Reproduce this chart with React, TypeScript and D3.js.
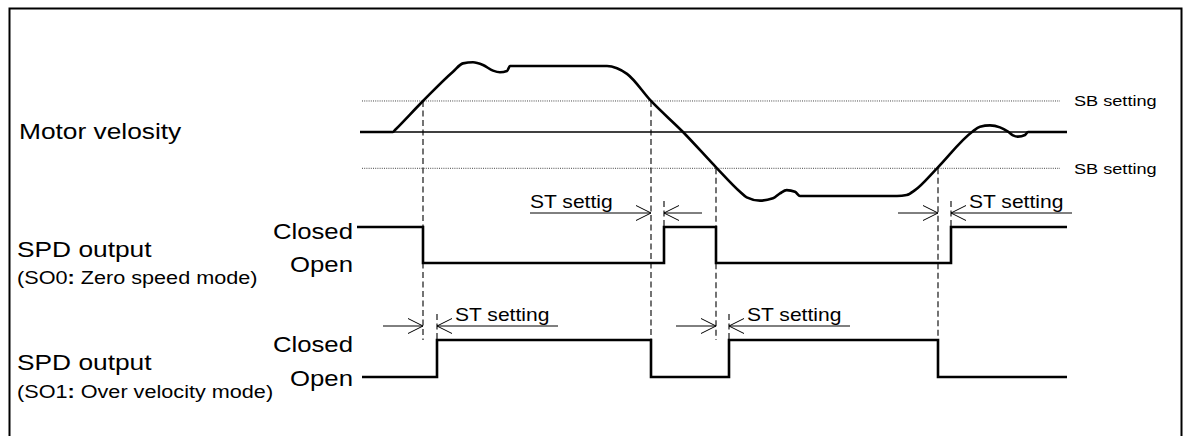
import React, { useEffect, useRef } from 'react';
import * as d3 from 'd3';

// time runs left to right over the traces (arbitrary units)
const timeDomain = [0, 707];

// motor velocity profile, [t, v] with v in % of the flat running speed
const velocity: [number, number][] = [
  [0, 0], [33, 0], [35, 3], [63, 47], [93, 91.4], [103, 104], [113, 105.6],
  [123, 101.5], [133, 93], [140, 90.5], [147, 92.4], [150, 100], [247, 100],
  [257, 96.5], [267, 88], [291, 47], [323, 0], [357, -55], [380, -90.5],
  [386.7, -99], [400, -104], [413, -100.5], [420, -93], [426.7, -88],
  [435, -90.5], [440, -97], [537, -97], [546.7, -95.5], [555, -88],
  [577, -55], [612, 0], [620, 8], [630, 10], [640, 7], [648, 0.5],
  [653, -5], [658, -7], [665, -4.5], [668, 0], [707, 0]
];

const sbLevels = [47, -55];
const sbLabels = ['SB setting', 'SB setting'];

// instants where the velocity crosses an SB setting, and at which level
const sbCross = [63, 291, 356, 578];
const sbCrossLevel = [47, 47, -55, -55];

// SPD output states, [t, 1 = Closed / 0 = Open]
const so0: [number, number][] = [[-3, 1], [63, 0], [304, 1], [356, 0], [591, 1], [707, 1]];
const so1: [number, number][] = [[2, 0], [77, 1], [291, 0], [369, 1], [578, 0], [707, 0]];

// ST setting delay markers
const stMarks = [
  { t0: 291, t1: 304, row: 0, text: 'ST settig', side: 'left' },
  { t0: 578, t1: 591, row: 0, text: 'ST setting', side: 'right' },
  { t0: 63, t1: 77, row: 1, text: 'ST setting', side: 'right' },
  { t0: 356, t1: 369, row: 1, text: 'ST setting', side: 'right' }
];

const rowTitles = ['SPD output', 'SPD output'];
const rowModes = [['(SO0', ':', ' Zero speed mode)'], ['(SO1', ':', ' Over velocity mode)']];
const stateNames = ['Closed', 'Open'];

const W = 1188;
const H = 436;
const STRETCH = 1.17;
const FONT = "'Liberation Sans', Arial, Helvetica, sans-serif";

export default function App() {
  const ref = useRef<SVGSVGElement>(null);

  useEffect(() => {
    const svg = d3.select(ref.current);
    svg.selectAll('*').remove();
    drawChart(svg);
  }, []);

  return (
    <svg ref={ref} width={W} height={H}
      style={{ position: 'absolute', left: 0, top: 0, background: '#fff' }} />
  );
}

function drawChart(svg: any) {
  const x = d3.scaleLinear().domain(timeDomain).range([360, 1067]);
  const y = d3.scaleLinear().domain([-100, 100]).range([198, 66]);

  const rows = [
    d3.scaleLinear().domain([0, 1]).range([263, 227]),
    d3.scaleLinear().domain([0, 1]).range([377, 340])
  ];

  const g = svg.append('g').attr('font-family', FONT).attr('fill', '#000');

  function label(txt: string, px: number, py: number, size: number, anchor = 'start') {
    return g.append('text')
      .attr('transform', 'translate(' + px + ',' + py + ') scale(' + STRETCH + ',1)')
      .attr('text-anchor', anchor)
      .attr('font-size', size)
      .text(txt);
  }

  // outer frame
  g.append('rect')
    .attr('x', 9.5).attr('y', 8.5)
    .attr('width', 1172).attr('height', 480)
    .attr('fill', 'none').attr('stroke', '#000').attr('stroke-width', 2);

  // SB setting dotted lines
  sbLevels.forEach((lv, i) => {
    g.append('line')
      .attr('x1', x(2)).attr('x2', x(700))
      .attr('y1', y(lv)).attr('y2', y(lv))
      .attr('stroke', '#444').attr('stroke-width', 1)
      .attr('stroke-dasharray', '1,1.2');
    label(sbLabels[i], 1074, y(lv) + 5.5, 15.5);
  });

  // zero velocity line
  g.append('line')
    .attr('x1', x(0)).attr('x2', x(706))
    .attr('y1', y(0)).attr('y2', y(0))
    .attr('stroke', '#000').attr('stroke-width', 1.4);

  // dashed guides from the SB crossings down to the outputs
  sbCross.forEach((t, i) => {
    g.append('line')
      .attr('x1', x(t)).attr('x2', x(t))
      .attr('y1', y(sbCrossLevel[i])).attr('y2', rows[1](1))
      .attr('stroke', '#000').attr('stroke-width', 1.1)
      .attr('stroke-dasharray', '6,3.5');
  });

  // velocity trace
  const vLine = d3.line<[number, number]>()
    .x(d => x(d[0])).y(d => y(d[1]))
    .curve(d3.curveMonotoneX);
  g.append('path')
    .attr('d', vLine(velocity))
    .attr('fill', 'none').attr('stroke', '#000').attr('stroke-width', 2.6)
    .attr('stroke-linejoin', 'round');

  // ST setting markers
  stMarks.forEach(m => {
    const a = x(m.t0);
    const b = x(m.t1);
    const ay = rows[m.row](1) - 14;
    const left = m.side === 'left' ? 121 : 40;
    const right = m.side === 'left' ? 38 : 121;
    g.append('line').attr('x1', a - left).attr('x2', a).attr('y1', ay).attr('y2', ay)
      .attr('stroke', '#000').attr('stroke-width', 1);
    g.append('line').attr('x1', b).attr('x2', b + right).attr('y1', ay).attr('y2', ay)
      .attr('stroke', '#000').attr('stroke-width', 1);
    g.append('path')
      .attr('d', 'M' + (a - 15) + ',' + (ay - 7.5) + 'L' + a + ',' + ay + 'L' + (a - 15) + ',' + (ay + 7.5))
      .attr('fill', 'none').attr('stroke', '#000').attr('stroke-width', 1);
    g.append('path')
      .attr('d', 'M' + (b + 15) + ',' + (ay - 7.5) + 'L' + b + ',' + ay + 'L' + (b + 15) + ',' + (ay + 7.5))
      .attr('fill', 'none').attr('stroke', '#000').attr('stroke-width', 1);
    g.append('line')
      .attr('x1', b).attr('x2', b)
      .attr('y1', ay - 12).attr('y2', rows[m.row](1))
      .attr('stroke', '#000').attr('stroke-width', 1.1)
      .attr('stroke-dasharray', '6,3.5');
    const tx = m.side === 'left' ? a - left : b + 18;
    label(m.text, tx, ay - 5, 18);
  });

  // output traces
  [so0, so1].forEach((data, r) => {
    const sLine = d3.line<[number, number]>()
      .x(d => x(d[0])).y(d => rows[r](d[1]))
      .curve(d3.curveStepAfter);
    g.append('path')
      .attr('d', sLine(data))
      .attr('fill', 'none').attr('stroke', '#000').attr('stroke-width', 2.6);

    label(stateNames[0], 353, rows[r](1) + 12, 22, 'end');
    label(stateNames[1], 353, rows[r](0) + 8.5, 22, 'end');

    label(rowTitles[r], 17, rows[r](1) + 30 - r * 0, 22.5);
    const mode = g.append('text')
      .attr('transform', 'translate(17,' + (rows[r](0) + 21) + ') scale(' + STRETCH + ',1)')
      .attr('font-size', 18.5);
    mode.append('tspan').text(rowModes[r][0]);
    mode.append('tspan').attr('font-weight', 'bold').text(rowModes[r][1]);
    mode.append('tspan').text(rowModes[r][2]);
  });

  label('Motor velosity', 19, y(0) + 7, 22.5);
}
